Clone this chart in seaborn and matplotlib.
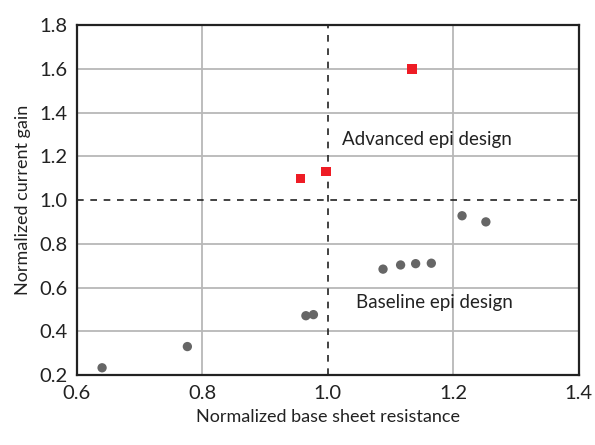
import numpy as np
import pandas as pd
import matplotlib.pyplot as plt
import seaborn as sns

# baseline epi design points
baseline_x = [0.64, 0.776, 0.965, 0.977, 1.088, 1.116, 1.140, 1.165, 1.214, 1.252]
baseline_y = [0.233, 0.330, 0.471, 0.476, 0.684, 0.703, 0.709, 0.711, 0.928, 0.900]

# advanced epi design points
advanced_x = [0.956, 0.997, 1.134]
advanced_y = [1.098, 1.130, 1.599]

x_ticks = [0.6, 0.8, 1.0, 1.2, 1.4]
y_ticks = [0.2, 0.4, 0.6, 0.8, 1.0, 1.2, 1.4, 1.6, 1.8]

sns.set_style('white')
plt.rcParams['font.family'] = ['Lato', 'DejaVu Sans']

df = pd.concat([
    pd.DataFrame({'x': baseline_x, 'y': baseline_y, 'design': 'Baseline'}),
    pd.DataFrame({'x': advanced_x, 'y': advanced_y, 'design': 'Advanced'}),
])

fig = plt.figure(figsize=(5.95, 4.45), dpi=100)
ax = fig.add_axes([0.1294, 0.1573, 0.8432, 0.7865])

# grid lines (solid gray), 1.0 lines dashed black
for xv in [0.8, 1.2]:
    ax.axvline(xv, color='#b8b8b8', lw=1.3, zorder=0)
for yv in [0.4, 0.6, 0.8, 1.2, 1.4, 1.6]:
    ax.axhline(yv, color='#b8b8b8', lw=1.3, zorder=0)
ax.axvline(1.0, color='#222222', lw=1.2, ls=(0, (4, 4)), zorder=1)
ax.axhline(1.0, color='#222222', lw=1.2, ls=(0, (4, 4)), zorder=1)

sns.scatterplot(data=df, x='x', y='y', hue='design', style='design',
                palette={'Baseline': '#666666', 'Advanced': '#ee1c25'},
                markers={'Baseline': 'o', 'Advanced': 's'},
                s=45, linewidth=0, legend=False, ax=ax, zorder=3)

ax.text(1.022, 1.275, 'Advanced epi design', fontsize=13.5, va='center', color='#222222')
ax.text(1.045, 0.533, 'Baseline epi design', fontsize=13.5, va='center', color='#222222')

ax.set_xlim(0.6, 1.4)
ax.set_ylim(0.2, 1.8)
ax.set_xticks(x_ticks)
ax.set_yticks(y_ticks)
ax.set_xticklabels([f'{v:.1f}' for v in x_ticks])
ax.set_yticklabels([f'{v:.1f}' for v in y_ticks])
ax.tick_params(axis='both', length=0, labelsize=14.5, colors='#222222', pad=7)
ax.set_xlabel('Normalized base sheet resistance', fontsize=13, color='#222222', labelpad=5)
ax.set_ylabel('Normalized current gain', fontsize=13, color='#222222', labelpad=6)

for sp in ax.spines.values():
    sp.set_visible(True)
    sp.set_color('#222222')
    sp.set_linewidth(1.6)

fig.savefig('out.png', dpi=100)
